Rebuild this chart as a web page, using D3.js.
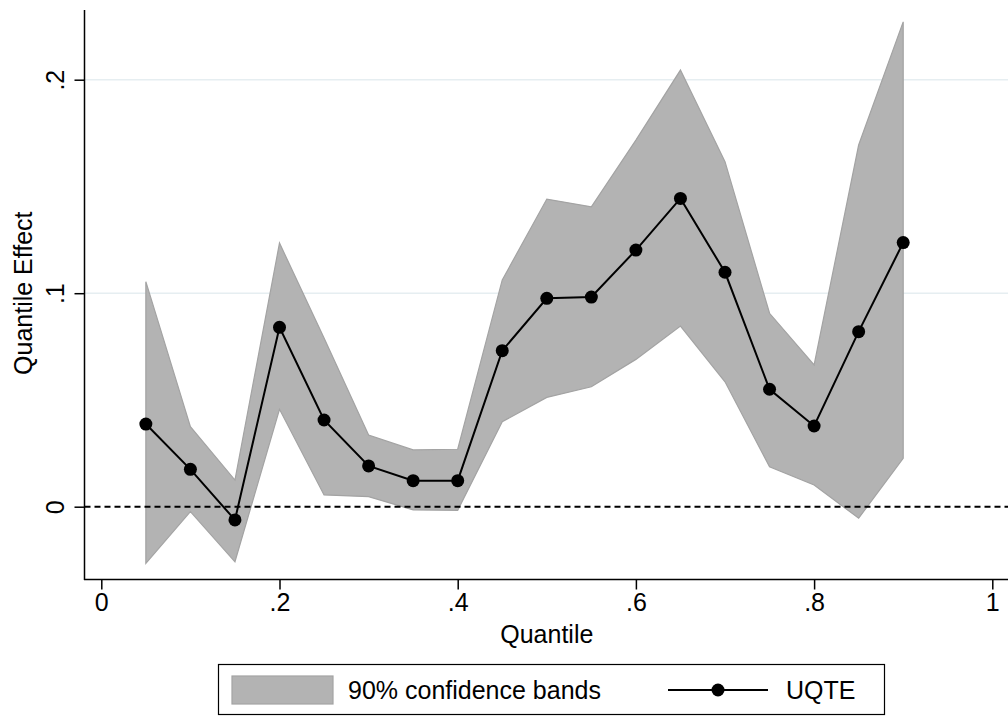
<!DOCTYPE html>
<html>
<head>
<meta charset="utf-8">
<script src="https://cdn.jsdelivr.net/npm/d3@7"></script>
<style>
  html, body { margin: 0; padding: 0; background: #fff; }
  svg { display: block; }
  text { font-family: "Liberation Sans", Arial, Helvetica, sans-serif; fill: #000; }
</style>
</head>
<body>
<svg id="chart" width="1008" height="717"></svg>
<script>
// ---- data ----
const quantiles = [0.05, 0.10, 0.15, 0.20, 0.25, 0.30, 0.35, 0.40, 0.45, 0.50, 0.55, 0.60, 0.65, 0.70, 0.75, 0.80, 0.85, 0.90];
const uqte  = [0.0387, 0.0175, -0.0062, 0.0840, 0.0406, 0.0191, 0.0122, 0.0122, 0.0731, 0.0976, 0.0982, 0.1202, 0.1444, 0.1098, 0.0550, 0.0378, 0.0820, 0.1237];
const upper = [0.1054, 0.0375, 0.0125, 0.1235, 0.0790, 0.0336, 0.0266, 0.0269, 0.1062, 0.1441, 0.1405, 0.1717, 0.2045, 0.1616, 0.0906, 0.0664, 0.1694, 0.2271];
const lower = [-0.0265, -0.0023, -0.0258, 0.0456, 0.0055, 0.0047, -0.0015, -0.0017, 0.0398, 0.0512, 0.0562, 0.0690, 0.0846, 0.0585, 0.0187, 0.0102, -0.0054, 0.0227];
const xTicks = [0, 0.2, 0.4, 0.6, 0.8, 1];
const yTicks = [0, 0.1, 0.2];
const xTitle = "Quantile";
const yTitle = "Quantile Effect";
const legendLabels = ["90% confidence bands", "UQTE"];

// ---- layout ----
const svg = d3.select("#chart");
const x = d3.scaleLinear().domain([0, 1]).range([101.3, 992.3]);
const y = d3.scaleLinear().domain([0, 0.2]).range([506.7, 79.7]);
const axisX = 84.5, axisY = 579.5, topY = 10, rightX = 1008;
const fmt = d => d === 0 ? "0" : (d === 1 ? "1" : d3.format(".1f")(d).replace(/^0/, ""));
const FS = 25;

// gridlines
svg.append("g").selectAll("line").data(yTicks.filter(d => d !== 0)).join("line")
  .attr("x1", axisX).attr("x2", rightX)
  .attr("y1", d => y(d)).attr("y2", d => y(d))
  .attr("stroke", "#e6eef1").attr("stroke-width", 1.5);

// confidence band
const rows = quantiles.map((q, i) => ({q, u: upper[i], l: lower[i], v: uqte[i]}));
svg.append("path").datum(rows)
  .attr("d", d3.area().x(d => x(d.q)).y0(d => y(d.l)).y1(d => y(d.u)))
  .attr("fill", "#b3b3b3").attr("stroke", "#a3a3a3").attr("stroke-width", 1.2);

// zero reference line
svg.append("line")
  .attr("x1", axisX).attr("x2", rightX).attr("y1", y(0)).attr("y2", y(0))
  .attr("stroke", "#000").attr("stroke-width", 2).attr("stroke-dasharray", "6,4");

// UQTE line and markers
svg.append("path").datum(rows)
  .attr("d", d3.line().x(d => x(d.q)).y(d => y(d.v)))
  .attr("fill", "none").attr("stroke", "#000").attr("stroke-width", 2);
svg.append("g").selectAll("circle").data(rows).join("circle")
  .attr("cx", d => x(d.q)).attr("cy", d => y(d.v)).attr("r", 6.5).attr("fill", "#000");

// axes lines
svg.append("line").attr("x1", axisX).attr("x2", axisX).attr("y1", topY).attr("y2", axisY + 0.5)
  .attr("stroke", "#000").attr("stroke-width", 1.5);
svg.append("line").attr("x1", axisX - 0.5).attr("x2", rightX).attr("y1", axisY).attr("y2", axisY)
  .attr("stroke", "#000").attr("stroke-width", 1.5);

// x axis ticks
const gx = svg.append("g").attr("transform", `translate(0,${axisY})`)
  .call(d3.axisBottom(x).tickValues(xTicks).tickFormat(fmt).tickSize(10).tickPadding(4));
gx.select(".domain").remove();
gx.selectAll(".tick line").attr("stroke", "#000").attr("stroke-width", 1.5);
gx.selectAll(".tick text").attr("font-size", FS).attr("font-family", "Liberation Sans, Arial, sans-serif").attr("fill", "#000");

// y axis ticks (rotated labels)
const gy = svg.append("g").attr("transform", `translate(${axisX},0)`)
  .call(d3.axisLeft(y).tickValues(yTicks).tickFormat(fmt).tickSize(10));
gy.select(".domain").remove();
gy.selectAll(".tick line").attr("stroke", "#000").attr("stroke-width", 1.5);
gy.selectAll(".tick text")
  .attr("font-size", FS).attr("font-family", "Liberation Sans, Arial, sans-serif").attr("fill", "#000")
  .attr("x", null).attr("dy", null)
  .attr("text-anchor", "middle")
  .attr("transform", "translate(-21,0) rotate(-90)");

// axis titles
svg.append("text").attr("x", x(0.5)).attr("y", 643).attr("text-anchor", "middle")
  .attr("font-size", FS).text(xTitle);
svg.append("text").attr("transform", `translate(32,${y(0.1)}) rotate(-90)`)
  .attr("text-anchor", "middle").attr("font-size", FS).text(yTitle);

// legend
const lg = svg.append("g");
lg.append("rect").attr("x", 218.5).attr("y", 664.5).attr("width", 666).attr("height", 50)
  .attr("fill", "#fff").attr("stroke", "#000").attr("stroke-width", 1.2);
lg.append("rect").attr("x", 232).attr("y", 676).attr("width", 101).attr("height", 28)
  .attr("fill", "#b3b3b3").attr("stroke", "#a3a3a3").attr("stroke-width", 1.2);
lg.append("text").attr("x", 348).attr("y", 699).attr("font-size", FS).text(legendLabels[0]);
lg.append("line").attr("x1", 668).attr("x2", 768).attr("y1", 690).attr("y2", 690)
  .attr("stroke", "#000").attr("stroke-width", 2);
lg.append("circle").attr("cx", 718).attr("cy", 690).attr("r", 6.5).attr("fill", "#000");
lg.append("text").attr("x", 786).attr("y", 699).attr("font-size", FS).text(legendLabels[1]);
</script>
</body>
</html>
